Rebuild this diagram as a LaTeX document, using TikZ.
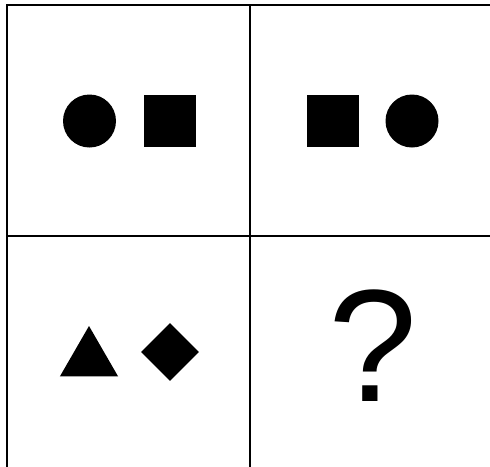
\documentclass[tikz,border=0pt]{standalone}
\usepackage{fontspec}
\setmainfont{Liberation Sans}
\usepackage{tikz}
\usetikzlibrary{positioning,shapes.geometric}

\begin{document}
\begin{tikzpicture}[x=1pt, y=-1pt,
  grid/.style={draw=black, line width=2pt},
  dot/.style={circle, fill=black, inner sep=0pt, minimum size=53pt},
  block/.style={rectangle, fill=black, inner sep=0pt, minimum size=52pt},
  tri/.style={regular polygon, regular polygon sides=3, fill=black, inner sep=0pt, minimum size=67pt},
  rhomb/.style={diamond, fill=black, inner sep=0pt, minimum width=58pt, minimum height=58pt},
  query/.style={font=\fontsize{160}{160}\selectfont, inner sep=0pt}
]
  \useasboundingbox (0,0) rectangle (490,466);
  % 2x2 frame
  \draw[grid] (7,5) rectangle (493,470);
  \draw[grid] (250,5) -- (250,470);
  \draw[grid] (7,236) -- (493,236);
  % top left
  \node[dot] (c1) at (89.5,121) {};
  \node[block] (s1) at (169.5,121) {};
  % top right
  \node[block] (s2) at (332.5,121) {};
  \node[dot] (c2) at (412,121) {};
  % bottom left
  \node[tri] (t1) at (89,359.5) {};
  \node[rhomb] (d1) at (170,352) {};
  % bottom right
  \node[query] (q) at (373,346) {?};
\end{tikzpicture}
\end{document}
